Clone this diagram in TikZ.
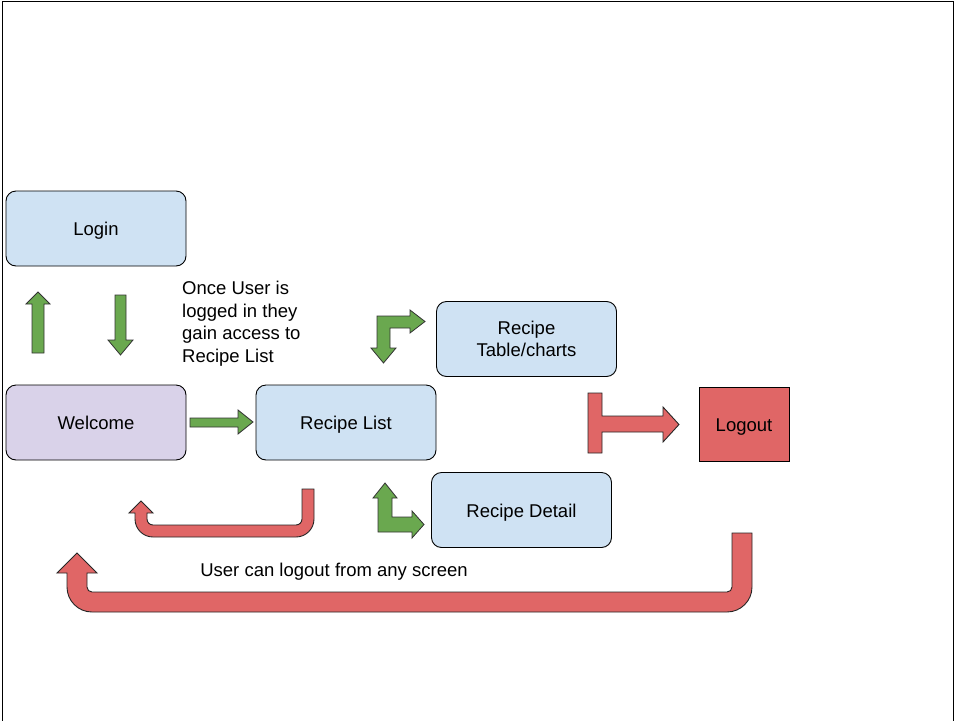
\documentclass[tikz,border=0pt]{standalone}
\usepackage{fontspec}
\setmainfont{Liberation Sans}
\definecolor{boxblue}{HTML}{CFE2F3}
\definecolor{boxpurple}{HTML}{D9D2E9}
\definecolor{arrred}{HTML}{E06666}
\definecolor{arrgreen}{HTML}{6AA84F}
\begin{document}
\begin{tikzpicture}[x=1pt,y=-1pt,
  screen/.style={draw=black, line width=0.9pt, rounded corners=10pt, fill=boxblue,
    minimum width=180pt, minimum height=75pt, inner sep=0pt, align=center,
    font=\fontsize{18.5}{22.5}\selectfont},
  oneline/.style={text height=16pt, text depth=1.8pt},
  lbl/.style={font=\fontsize{18.5}{22.5}\selectfont, inner sep=0pt},
  greenarrow/.style={draw=black!80, line width=0.8pt, fill=arrgreen, line join=miter},
  redarrow/.style={draw=black!85, line width=0.9pt, fill=arrred, line join=miter}]
\useasboundingbox (0,0) rectangle (960,720);
\draw[line width=1.3pt] (2.7,1.7) rectangle (953.3,735);

% screens
\node[screen, oneline] (login) at (96,228.5) {Login};
\node[screen, oneline, fill=boxpurple] (welcome) at (96,422.5) {Welcome};
\node[screen, oneline] (list) at (346,422.5) {Recipe List};
\node[screen] (table) at (526.5,339) {Recipe\\Table/charts};
\node[screen, oneline] (detail) at (521.5,510) {Recipe Detail};
\node[draw=black, line width=0.9pt, fill=arrred, minimum width=90pt, minimum height=74pt,
  inner sep=0pt, oneline, font=\fontsize{18.5}{22.5}\selectfont] (logout) at (744,424) {Logout};

% texts
\node[lbl, anchor=north west, align=left] (note) at (182,281) {Once User is\\logged in they\\gain access to\\Recipe List};
\node[lbl] (anyscreen) at (334,572) {User can logout from any screen};

% green block arrows
\draw[greenarrow] (32,353) -- (32,304) -- (26,304) -- (38,292) -- (50,304) -- (44,304) -- (44,353) -- cycle;
\draw[greenarrow] (115,295) -- (126,295) -- (126,340) -- (133,340) -- (120.5,355) -- (108,340) -- (115,340) -- cycle;
\draw[greenarrow] (190,418) -- (238,418) -- (238,410) -- (253,422) -- (238,434) -- (238,427) -- (190,427) -- cycle;
\draw[greenarrow] (377,316) -- (410,316) -- (410,310) -- (425,321.5) -- (410,333) -- (410,328) -- (390,328) -- (390,348) -- (396,348) -- (383.5,363) -- (371,348) -- (377,348) -- cycle;
\draw[greenarrow] (378,532) -- (378,498) -- (373,498) -- (385,483) -- (397,498) -- (392,498) -- (392,517) -- (412,517) -- (412,511) -- (424,524.5) -- (412,538) -- (412,532) -- cycle;

% red block arrows
\draw[redarrow] (588,393) -- (602,393) -- (602,416) -- (663,416) -- (663,407) -- (679,424.5) -- (663,442) -- (663,432) -- (602,432) -- (602,453) -- (588,453) -- cycle;
\draw[redarrow] (314,489) -- (314,519) .. controls (314,528.9) and (305.9,537) .. (296,537)
  -- (153,537) .. controls (143.1,537) and (135,528.9) .. (135,519)
  -- (135,513) -- (129,513) -- (141,501) -- (153,513) -- (147,513)
  -- (147,519) .. controls (147,522.3) and (149.7,525) .. (153,525)
  -- (296,525) .. controls (299.3,525) and (302,522.3) .. (302,519)
  -- (302,489) -- cycle;
\draw[redarrow] (752,533) -- (752,587) .. controls (752,600.8) and (740.8,612) .. (727,612)
  -- (92,612) .. controls (78.2,612) and (67,600.8) .. (67,587)
  -- (67,573) -- (57,573) -- (77,553) -- (97,573) -- (87,573)
  -- (87,587) .. controls (87,589.8) and (89.2,592) .. (92,592)
  -- (727,592) .. controls (729.8,592) and (732,589.8) .. (732,587)
  -- (732,533) -- cycle;
\end{tikzpicture}
\end{document}
